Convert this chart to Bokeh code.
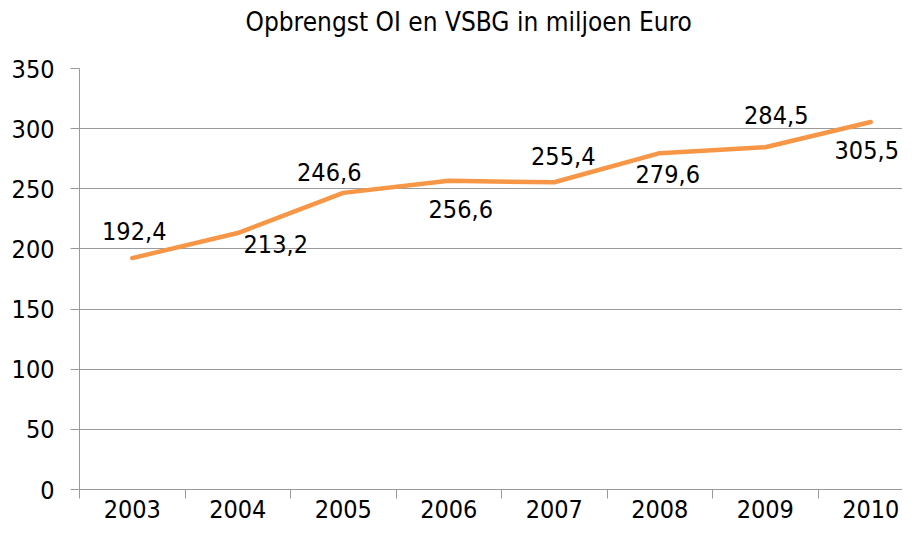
from bokeh.plotting import figure
from bokeh.models import FixedTicker, Range1d, ColumnDataSource
from bokeh.embed import file_html
from bokeh.resources import INLINE

# ---- data ----
title_text = "Opbrengst OI en VSBG in miljoen Euro"
years = [2003, 2004, 2005, 2006, 2007, 2008, 2009, 2010]
values = [192.4, 213.2, 246.6, 256.6, 255.4, 279.6, 284.5, 305.5]
y_ticks = [0, 50, 100, 150, 200, 250, 300, 350]

# ---- layout of the data labels (screen px, relative to point) ----
label_dx = [2, 38, -14, 12, 9, 8, 11, -4]
label_dy = [-27, 11, -21, 28, -26, 21, -32, 28]

FONT = "DejaVu Sans Condensed"
GRAY = "#9a9a9a"
ORANGE = "#F79646"

labels = [f"{v:.1f}".replace(".", ",") for v in values]
src = ColumnDataSource(dict(x=years, y=values, lab=labels, dx=label_dx, dy=label_dy))

cat_px = 105.5
W, H = 902, 529
left = 79
top = 68
bottom = 40
x_end = years[0] - 0.5 + (W - left) / cat_px

p = figure(width=W, height=H, output_backend="svg", toolbar_location=None,
           x_range=Range1d(years[0] - 0.5, x_end), y_range=Range1d(0, 350),
           min_border_left=left, min_border_right=0, min_border_top=top,
           min_border_bottom=bottom, title=title_text)
p.outline_line_color = None
p.background_fill_color = "white"
p.border_fill_color = "white"

p.title.text_font = FONT
p.title.text_font_size = "26px"
p.title.text_font_style = "normal"
p.title.align = "left"
p.title.offset = 245 - left
p.title.text_color = "black"
p.title.standoff = 0
p.title.padding = dict(left=0, right=0, top=0, bottom=32)

# line
p.line("x", "y", source=src, line_color=ORANGE, line_width=4.5, line_join="round", line_cap="round")

# data labels
p.text("x", "y", text="lab", source=src, x_offset="dx", y_offset="dy",
       text_align="center", text_baseline="middle", text_font_size="25px",
       text_font={"value": FONT}, text_color="black")

# x axis
xa = p.xaxis[0]
xa.ticker = FixedTicker(ticks=years, minor_ticks=[y - 0.5 for y in years] + [years[-1] + 0.5])
xa.major_tick_out = 0
xa.major_tick_in = 0
xa.minor_tick_out = 9
xa.minor_tick_in = 0
xa.minor_tick_line_color = GRAY
xa.axis_line_color = GRAY
xa.major_label_text_font = FONT
xa.major_label_text_font_size = "25px"
xa.major_label_text_color = "black"
xa.major_label_standoff = 1
xa.formatter.use_scientific = False
p.xgrid.grid_line_color = None

# y axis
ya = p.yaxis[0]
ya.ticker = FixedTicker(ticks=y_ticks, minor_ticks=[])
ya.major_tick_out = 9
ya.major_tick_in = 0
ya.major_tick_line_color = GRAY
ya.minor_tick_line_color = None
ya.axis_line_color = GRAY
ya.major_label_text_font = FONT
ya.major_label_text_font_size = "25px"
ya.major_label_text_color = "black"
ya.major_label_standoff = 16
p.ygrid.ticker = FixedTicker(ticks=y_ticks)
p.ygrid.grid_line_color = GRAY
p.ygrid.grid_line_width = 1

open("out.html", "w").write(file_html(p, INLINE))
